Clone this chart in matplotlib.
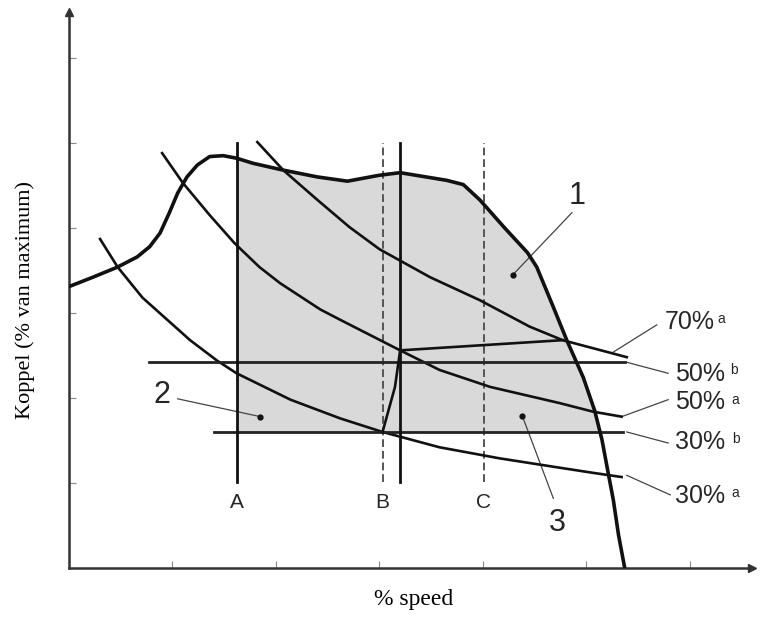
import numpy as np
import matplotlib
matplotlib.use('Agg')
import matplotlib.pyplot as plt

# full-load torque curve (x in tick units of % speed, y in tick units of torque)
fl_x = [0.0, 0.23, 0.47, 0.66, 0.78, 0.88, 0.97, 1.05, 1.14, 1.24, 1.36, 1.49, 1.62, 1.78,
        2.07, 2.40, 2.69, 3.00, 3.20, 3.65, 3.81, 3.97, 4.21, 4.43, 4.52, 4.68, 4.81, 4.97,
        5.08, 5.15, 5.21, 5.26, 5.31, 5.37]
fl_y = [3.31, 3.42, 3.54, 3.66, 3.78, 3.94, 4.18, 4.41, 4.60, 4.74, 4.84, 4.85, 4.82, 4.76,
        4.68, 4.60, 4.55, 4.62, 4.65, 4.56, 4.51, 4.33, 4.00, 3.71, 3.54, 3.07, 2.68, 2.24,
        1.85, 1.51, 1.12, 0.80, 0.39, 0.00]

# constant power curves
p70a_x = [1.82, 2.07, 2.40, 2.71, 3.00, 3.49, 3.97, 4.45, 4.77, 5.39]
p70a_y = [5.01, 4.68, 4.33, 4.01, 3.75, 3.42, 3.15, 2.84, 2.68, 2.48]
p50a_x = [0.90, 1.10, 1.36, 1.60, 1.84, 2.04, 2.43, 2.62, 3.20, 3.58, 4.07, 4.74, 5.06, 5.34]
p50a_y = [4.88, 4.53, 4.15, 3.82, 3.54, 3.35, 3.04, 2.92, 2.56, 2.33, 2.13, 1.94, 1.84, 1.78]
p30a_x = [0.30, 0.47, 0.71, 1.17, 1.43, 1.62, 2.14, 2.62, 3.03, 3.58, 4.16, 4.74, 5.06, 5.34]
p30a_y = [3.87, 3.54, 3.18, 2.68, 2.44, 2.29, 1.98, 1.76, 1.60, 1.42, 1.29, 1.18, 1.12, 1.07]

# constant torque lines (b)
y50b, x50b = 2.42, [0.77, 5.37]
y30b, x30b = 1.60, [1.40, 5.35]

# speed lines A, B, C
xA, xB_dash, xB, xC = 1.62, 3.03, 3.20, 4.01
v_bot, v_top = 1.01, 5.00

# operating line from B to 70% point
op_x = [3.03, 3.15, 3.20, 4.77]
op_y = [1.60, 2.13, 2.56, 2.68]

# right-hand labels: text, sup, text pos, sup pos, leader from/to
labels = [
    ('70%', 'a', (5.76, 2.89), (6.27, 2.93), (5.68, 2.86), (5.26, 2.54)),
    ('50%', 'b', (5.86, 2.28), (6.39, 2.33), (5.39, 2.42), (5.79, 2.29)),
    ('50%', 'a', (5.86, 1.95), (6.40, 1.98), (5.79, 1.98), (5.34, 1.78)),
    ('30%', 'b', (5.86, 1.48), (6.41, 1.52), (5.39, 1.60), (5.79, 1.47)),
    ('30%', 'a', (5.86, 0.85), (6.40, 0.88), (5.39, 1.09), (5.81, 0.86)),
]
# numbered zones: text pos, leader start, dot
zones = [
    ('1', (4.91, 4.38), (4.86, 4.18), (4.29, 3.45)),
    ('2', (0.90, 2.04), (1.05, 1.99), (1.85, 1.78)),
    ('3', (4.72, 0.53), (4.68, 0.82), (4.38, 1.79)),
]

fig = plt.figure(figsize=(7.62, 6.17), dpi=100)
ax = fig.add_axes([69/762, 49/617, 683/762, 556/617])
ax.set_xlim(0, 6.6)
ax.set_ylim(0, 6.54)

ink = '#111111'
txt_c = '#262626'

# shaded operating area
fl_x_a = np.array(fl_x)
fl_y_a = np.array(fl_y)
tail = fl_x_a > 4.5
x_cross = np.interp(y30b, fl_y_a[tail][::-1], fl_x_a[tail][::-1])
keep = (fl_x_a > xA) & (fl_x_a < x_cross)
poly_x = [xA, xA] + list(fl_x_a[keep]) + [x_cross]
poly_y = [y30b, np.interp(xA, fl_x_a, fl_y_a)] + list(fl_y_a[keep]) + [y30b]
ax.fill(poly_x, poly_y, color='#d9d9d9', lw=0, zorder=1)

# lines
ax.plot(fl_x, fl_y, color=ink, lw=2.6, zorder=4, solid_joinstyle='round')
for xs, ys in [(p70a_x, p70a_y), (p50a_x, p50a_y), (p30a_x, p30a_y)]:
    ax.plot(xs, ys, color=ink, lw=1.9, zorder=3, solid_joinstyle='round')
ax.plot(x50b, [y50b, y50b], color='#222222', lw=2.0, zorder=3)
ax.plot(x30b, [y30b, y30b], color='#222222', lw=2.0, zorder=3)
ax.plot([xA, xA], [v_bot, v_top], color=ink, lw=2.0, zorder=3)
ax.plot([xB, xB], [v_bot, v_top], color=ink, lw=2.0, zorder=3)
for xv in [xB_dash, xC]:
    ax.plot([xv, xv], [v_bot, v_top], color='#555555', lw=1.4, ls=(0, (4, 2)), zorder=2)
ax.plot(op_x, op_y, color=ink, lw=1.9, zorder=3, solid_joinstyle='round')

for name, xv in [('A', xA), ('B', xB_dash), ('C', xC)]:
    ax.text(xv, 0.77, name, ha='center', va='center', fontsize=15,
            family='Liberation Sans', color=txt_c)

for txt, sup, tpos, spos, l0, l1 in labels:
    ax.text(tpos[0], tpos[1], txt, ha='left', va='center', fontsize=18,
            family='Liberation Sans', color=txt_c)
    ax.text(spos[0], spos[1], sup, ha='left', va='center', fontsize=10,
            family='Liberation Sans', color=txt_c)
    ax.plot([l0[0], l1[0]], [l0[1], l1[1]], color='#444444', lw=0.9, clip_on=False)

for txt, tpos, l0, dot in zones:
    ax.text(tpos[0], tpos[1], txt, ha='center', va='center', fontsize=22,
            family='Liberation Sans', color=txt_c)
    ax.plot([l0[0], dot[0]], [l0[1], dot[1]], color='#444444', lw=0.9)
    ax.plot(dot[0], dot[1], 'o', color=ink, ms=3.5)

# axes styling
for s in ['top', 'right']:
    ax.spines[s].set_visible(False)
for s in ['left', 'bottom']:
    ax.spines[s].set_color('#333333')
    ax.spines[s].set_linewidth(1.8)
ax.plot(0, 6.54, '^', color='#333333', ms=6, clip_on=False, zorder=5)
ax.plot(6.6, 0, '>', color='#333333', ms=6, clip_on=False, zorder=5)
ax.set_xticks([1, 2, 3, 4, 5, 6])
ax.set_yticks([1, 2, 3, 4, 5, 6])
ax.set_xticklabels([])
ax.set_yticklabels([])
ax.tick_params(direction='in', length=5, width=0.8, color='#888888')

fig.text(25/762, 1 - 300/617, 'Koppel (% van maximum)', rotation=90, ha='center', va='center',
         fontsize=16, family='Liberation Serif')
fig.text(414/762, 1 - 600/617, '% speed', ha='center', va='center',
         fontsize=17, family='Liberation Serif')

fig.savefig('out.png', dpi=100)
